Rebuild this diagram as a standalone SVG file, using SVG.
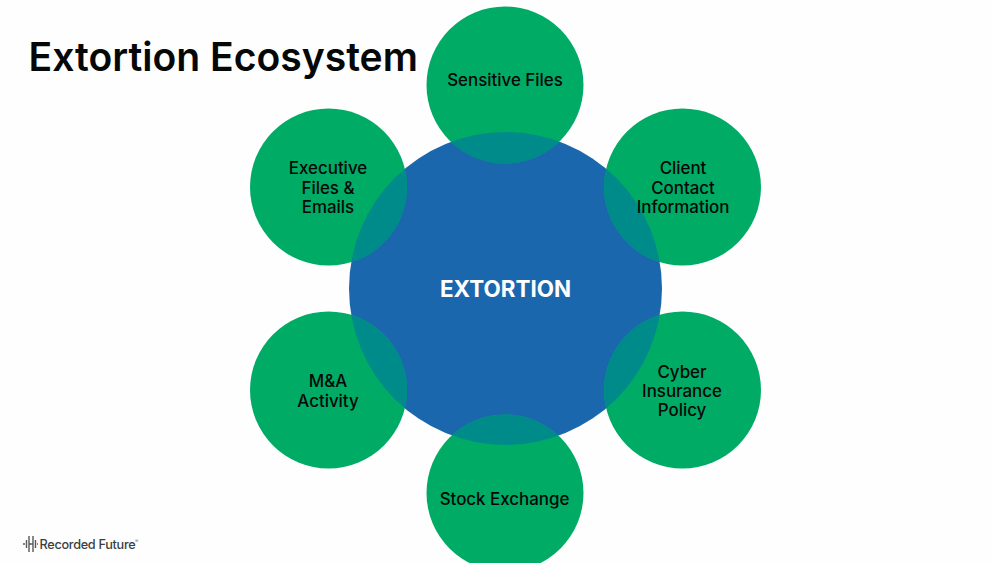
<svg xmlns="http://www.w3.org/2000/svg" width="993" height="563" viewBox="0 0 993 563">
  <style>
    text { font-family: Inter, "Liberation Sans", sans-serif; fill: #050807; }
    .sat { fill: #00ab66; }
    .lap { fill: #008b8b; clip-path: url(#hub); }
    .lbl { font-size: 16.900px; font-weight: 500; text-anchor: middle; }
    .bar { stroke: #55585a; stroke-width: 1.4; fill: none; }
  </style>
  <defs>
    <clipPath id="hub"><circle cx="505.500" cy="288.500" r="156.500"/></clipPath>
  </defs>
  <rect width="993" height="563" fill="#fefefe"/>
  <text id="title" x="28.500" y="70.500" style="font-size:39.100px;font-weight:600">Extortion Ecosystem</text>
  <g id="node-extortion">
    <circle cx="505.500" cy="288.500" r="156.500" fill="#1b67ad"/>
    <text x="505.500" y="296.500" text-anchor="middle" style="font-size:22.400px;font-weight:700;fill:#fff">EXTORTION</text>
  </g>
  <g id="node-sensitive">
    <circle class="sat" cx="505" cy="85" r="78.500"/><circle class="lap" cx="505" cy="85" r="78.500"/>
    <text class="lbl" x="505" y="85.500">Sensitive Files</text>
  </g>
  <g id="node-client">
    <circle class="sat" cx="682.500" cy="187" r="78.500"/><circle class="lap" cx="682.500" cy="187" r="78.500"/>
    <text class="lbl" x="683" y="173.500">Client</text>
    <text class="lbl" x="683" y="193.500">Contact</text>
    <text class="lbl" x="683" y="212.500">Information</text>
  </g>
  <g id="node-cyber">
    <circle class="sat" cx="682.500" cy="390" r="78.500"/><circle class="lap" cx="682.500" cy="390" r="78.500"/>
    <text class="lbl" x="682" y="377.500">Cyber</text>
    <text class="lbl" x="682" y="396.500">Insurance</text>
    <text class="lbl" x="682" y="415.500">Policy</text>
  </g>
  <g id="node-stock">
    <circle class="sat" cx="505" cy="493" r="78.500"/><circle class="lap" cx="505" cy="493" r="78.500"/>
    <text class="lbl" x="504.500" y="504.500">Stock Exchange</text>
  </g>
  <g id="node-ma">
    <circle class="sat" cx="328.500" cy="390" r="78.500"/><circle class="lap" cx="328.500" cy="390" r="78.500"/>
    <text class="lbl" x="328" y="386.500">M&amp;A</text>
    <text class="lbl" x="328" y="406.500">Activity</text>
  </g>
  <g id="node-executive">
    <circle class="sat" cx="328.500" cy="187" r="78.500"/><circle class="lap" cx="328.500" cy="187" r="78.500"/>
    <text class="lbl" x="328" y="173.500">Executive</text>
    <text class="lbl" x="328" y="193.500">Files &amp;</text>
    <text class="lbl" x="328" y="212.500">Emails</text>
  </g>
  <g id="logo">
    <path class="bar" d="M23 544h2M26.500 540v8M29 536v16M29 544h4M33 536v16M35.500 540v8M37 544h1"/>
    <text x="39.500" y="549" style="font-size:12.700px;font-weight:500;fill:#3c3f41;letter-spacing:-0.300px">Recorded Future</text>
    <text x="135" y="543" style="font-size:5px;fill:#777">®</text>
  </g>
</svg>
